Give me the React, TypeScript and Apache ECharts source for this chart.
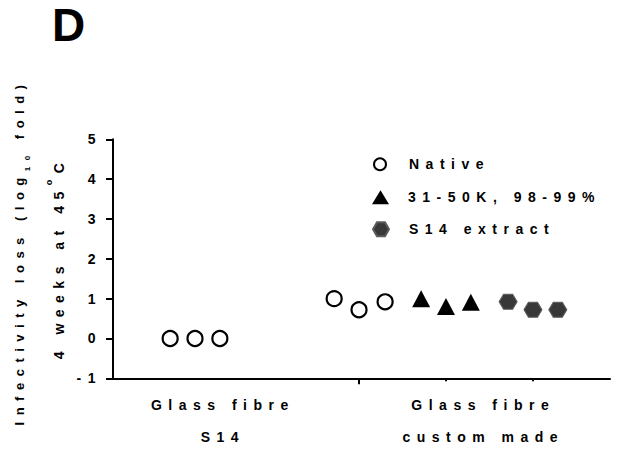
import React, { useEffect, useRef } from 'react';
import * as echarts from 'echarts';

const FONT = '"Liberation Sans", Arial, sans-serif';
const LS = 6.5; // letter spacing used throughout the figure

// ---- data ----
const seriesNames = ['Native', '31-50K, 98-99%', 'S14 extract'];
const nativeX = [2.3, 3.3, 4.3, 8.9, 9.9, 10.95];
const nativeY = [0, 0, 0, 1.0, 0.72, 0.92];
const triX = [12.4, 13.4, 14.4];
const triY = [1.0, 0.8, 0.91];
const hexX = [15.9, 16.9, 17.9];
const hexY = [0.92, 0.72, 0.72];

const yMin = -1;
const yMax = 5;
const yStep = 1;
const xMin = 0;
const xMax = 20;

const groupLabels = ['Glass fibre\nS14', 'Glass fibre\ncustom made'];
const groupLabelPos = [4.42, 14.9];
const majorTickPos = [9.9];
const minorTickPos = [13.4, 16.9];

const yTitle1 = ['Infectivity loss (log', '10', ' fold)'];
const yTitle2 = ['4 weeks at 45', 'o', 'C'];
const panelLetter = 'D';

const HEX = 'path://M0,50L25,6.7L75,6.7L100,50L75,93.3L25,93.3Z';

const zip = (xs: number[], ys: number[]) => xs.map((x, i) => [x, ys[i]]);

const bold14 = { color: '#000', fontWeight: 'bold' as const, fontSize: 14, fontFamily: FONT };

function buildOption(): any {
  const legendBase = {
    orient: 'vertical',
    padding: 0,
    selectedMode: false,
    textStyle: { ...bold14 },
  };
  return {
    animation: false,
    backgroundColor: '#fff',
    grid: { left: 113, right: 10, top: 139.3, bottom: 73.7, containLabel: false, outerBoundsMode: 'none' },
    xAxis: [
      {
        type: 'value',
        min: xMin,
        max: xMax,
        splitLine: { show: false },
        axisLine: { show: true, onZero: false, lineStyle: { color: '#000', width: 2 } },
        axisTick: { show: true, customValues: minorTickPos, length: 3, lineStyle: { color: '#000', width: 2 } },
        axisLabel: {
          ...bold14,
          customValues: groupLabelPos,
          margin: 11,
          lineHeight: 32,
          formatter: (v: number) => {
            const i = groupLabelPos.findIndex((p) => Math.abs(p - v) < 1e-6);
            return i >= 0 ? groupLabels[i] : '';
          },
        },
      },
      {
        type: 'value',
        position: 'bottom',
        min: xMin,
        max: xMax,
        splitLine: { show: false },
        axisLine: { show: false, onZero: false },
        axisTick: { show: true, customValues: majorTickPos, length: 6, lineStyle: { color: '#000', width: 2 } },
        axisLabel: { show: false },
      },
    ],
    yAxis: {
      type: 'value',
      min: yMin,
      max: yMax,
      interval: yStep,
      splitLine: { show: false },
      axisLine: { show: true, onZero: false, lineStyle: { color: '#000', width: 2 } },
      axisTick: { show: true, length: 7, lineStyle: { color: '#000', width: 2 } },
      axisLabel: { ...bold14, margin: 11 },
    },
    legend: [
      { ...legendBase, data: [seriesNames[0]], left: 373, top: 154, itemWidth: 12, itemHeight: 12,
        textStyle: { ...bold14, padding: [0, 0, 0, 18] } },
      { ...legendBase, data: [seriesNames[1]], left: 372, top: 187, itemWidth: 17, itemHeight: 14,
        textStyle: { ...bold14, padding: [0, 0, 0, 14] } },
      { ...legendBase, data: [seriesNames[2]], left: 372, top: 219, itemWidth: 16, itemHeight: 14,
        textStyle: { ...bold14, padding: [0, 0, 0, 15] } },
    ],
    graphic: [
      {
        type: 'text',
        x: 52,
        y: 25,
        style: { text: panelLetter, font: `bold 46px ${FONT}`, fill: '#000', align: 'left', verticalAlign: 'middle' },
      },
      {
        type: 'text',
        x: 19,
        y: 252,
        rotation: Math.PI / 2,
        style: {
          text: `{a|${yTitle1[0]}}{s|${yTitle1[1]}}{a|${yTitle1[2]}}`,
          align: 'center',
          verticalAlign: 'middle',
          fill: '#000',
          rich: {
            a: { font: `bold 13px ${FONT}`, fill: '#000' },
            s: { font: `bold 8px ${FONT}`, fill: '#000', padding: [17, 0, 0, 0] },
          },
        },
      },
      {
        type: 'text',
        x: 59,
        y: 258,
        rotation: Math.PI / 2,
        style: {
          text: `{a|${yTitle2[0]}}{p|${yTitle2[1]}}{a|${yTitle2[2]}}`,
          align: 'center',
          verticalAlign: 'middle',
          fill: '#000',
          rich: {
            a: { font: `bold 14px ${FONT}`, fill: '#000' },
            p: { font: `bold 9px ${FONT}`, fill: '#000', padding: [0, 0, 20, 0] },
          },
        },
      },
    ],
    series: [
      {
        name: seriesNames[0],
        type: 'scatter',
        data: zip(nativeX, nativeY),
        symbol: 'circle',
        symbolSize: 15,
        itemStyle: { color: '#fff', borderColor: '#000', borderWidth: 2.2, opacity: 1 },
        z: 5,
      },
      {
        name: seriesNames[1],
        type: 'scatter',
        data: zip(triX, triY),
        symbol: 'triangle',
        symbolSize: [18, 17],
        itemStyle: { color: '#000', opacity: 1 },
        z: 5,
      },
      {
        name: seriesNames[2],
        type: 'scatter',
        data: zip(hexX, hexY),
        symbol: HEX,
        symbolSize: [18, 15],
        itemStyle: { color: '#383838', borderColor: '#5c5c5c', borderWidth: 1, opacity: 1 },
        z: 5,
      },
    ],
  };
}

export default function App() {
  const ref = useRef<HTMLDivElement>(null);
  useEffect(() => {
    document.body.style.margin = '0';
    const ctx = document.createElement('canvas').getContext('2d');
    const setApi = (echarts as any).setPlatformAPI;
    if (ctx && setApi) {
      setApi({
        measureText: (text: string, font?: string) => {
          ctx.font = font || '12px sans-serif';
          (ctx as any).letterSpacing = LS + 'px';
          return ctx.measureText(text);
        },
      });
    }
    const chart = echarts.init(ref.current!, null, { renderer: 'svg' });
    chart.setOption(buildOption());
    return () => chart.dispose();
  }, []);
  return (
    <div
      ref={ref}
      style={{ width: 620, height: 452, letterSpacing: LS + 'px', background: '#fff' }}
    />
  );
}
